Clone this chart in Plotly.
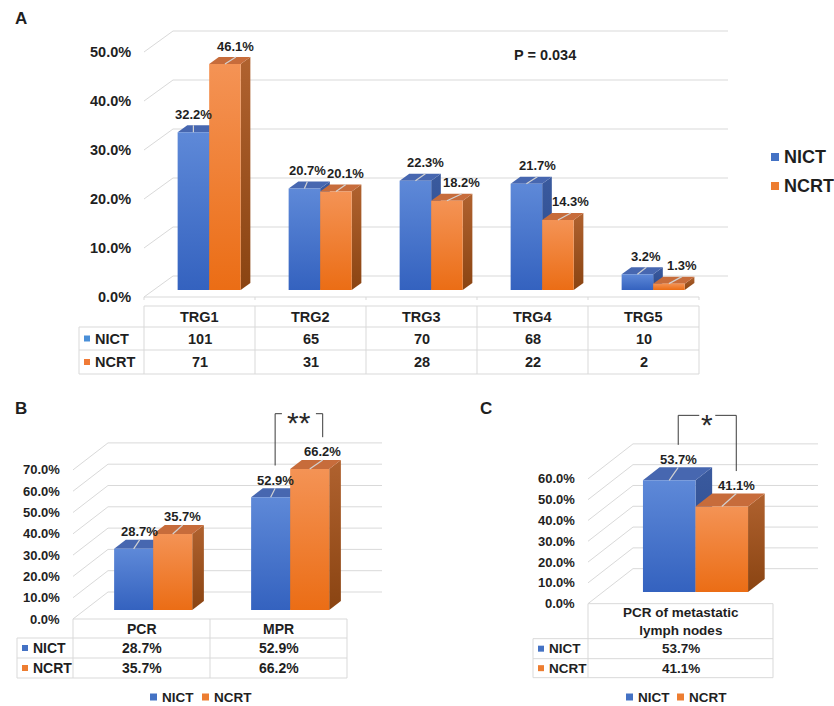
import plotly.graph_objects as go

W, H = 834, 706
FONT = "Liberation Sans, Arial, Helvetica, sans-serif"
INK = "#1F1F1F"
GRID = "#D9D9D9"
LEADER = "#D2D2D2"

# ---------------- data ----------------
series_names = ["NICT", "NCRT"]

trg_categories = ["TRG1", "TRG2", "TRG3", "TRG4", "TRG5"]
trg_nict_pct = [32.2, 20.7, 22.3, 21.7, 3.2]
trg_ncrt_pct = [46.1, 20.1, 18.2, 14.3, 1.3]
trg_nict_count = [101, 65, 70, 68, 10]
trg_ncrt_count = [71, 31, 28, 22, 2]
trg_ticks = [0, 10, 20, 30, 40, 50]
trg_p_text = "P = 0.034"

resp_categories = ["PCR", "MPR"]
resp_nict_pct = [28.7, 52.9]
resp_ncrt_pct = [35.7, 66.2]
resp_ticks = [0, 10, 20, 30, 40, 50, 60, 70]
resp_sig = "**"

ln_categories = ["PCR of metastatic<br>lymph nodes"]
ln_nict_pct = [53.7]
ln_ncrt_pct = [41.1]
ln_ticks = [0, 10, 20, 30, 40, 50, 60]
ln_sig = "*"

# ---------------- styles ----------------
FACE = {
    "NICT": dict(front=("#3462BF", "#5E89D8"), top="#4767B0", side=("#2B4A8D", "#3A5A9E")),
    "NCRT": dict(front=("#EB6D15", "#F49355"), top="#C76C3B", side=("#8A4412", "#B0622F")),
}
KEY = {"NICT": "#4472C4", "NCRT": "#ED7D31"}
KEY_TABLE_A = {"NICT": "#4A8FD8", "NCRT": "#F07A36"}

panels = [
    dict(xa="x", ya="y", box=(0, 0, 834, 395), cx=199.5, ux=111.0, y0=290.0, uy=4.9,
         depth=(29.0, 21.0), bar_t=1 / 3, bar_w=0.284,
         cats=trg_categories, vals=[trg_nict_pct, trg_ncrt_pct], ticks=trg_ticks,
         rows=[[str(v) for v in trg_nict_count], [str(v) for v in trg_ncrt_count]],
         tick_font=14.5, value_font=13, table_font=14.5, header_font=14.5,
         label_gap=11, nudge=([0, 3, 10, 11, 9], [11, 10, 15, 13, 13]),
         table_gap=9, row_h=(21, 23, 24), key_w=65, key_colors=KEY_TABLE_A, floor_ticks=True),
    dict(xa="x2", ya="y2", box=(0, 395, 417, 706), cx=141.5, ux=137.0, y0=610.0, uy=2.13,
         depth=(35.0, 27.0), bar_t=1 / 3, bar_w=0.285,
         cats=resp_categories, vals=[resp_nict_pct, resp_ncrt_pct], ticks=resp_ticks,
         rows=[[f"{v:.1f}%" for v in resp_nict_pct], [f"{v:.1f}%" for v in resp_ncrt_pct]],
         tick_font=13, value_font=13, table_font=14, header_font=14,
         label_gap=8.3, nudge=([6, 4.5], [10, 13]),
         table_gap=0, row_h=(19, 20, 20), key_w=56, key_colors=KEY, floor_ticks=False,
         sig=resp_sig, sig_cat=1, sig_above=38, sig_gap=17),
    dict(xa="x3", ya="y3", box=(417, 395, 834, 706), cx=680.5, ux=185.0, y0=592.0, uy=2.08,
         depth=(45.0, 35.0), bar_t=0.37, bar_w=0.284,
         cats=ln_categories, vals=[ln_nict_pct, ln_ncrt_pct], ticks=ln_ticks,
         rows=[[f"{v:.1f}%" for v in ln_nict_pct], [f"{v:.1f}%" for v in ln_ncrt_pct]],
         tick_font=13, value_font=13, table_font=13.5, header_font=13.5,
         label_gap=8, nudge=([9], [14.5]),
         table_gap=0, row_h=(35, 20, 19), key_w=55, key_colors=KEY, floor_ticks=False,
         sig=ln_sig, sig_cat=0, sig_above=44, sig_gap=8),
]

fig = go.Figure()
shapes, annotations = [], []


def font(size, bold=True, color=INK):
    return dict(family=FONT, size=size, color=color, weight="bold" if bold else "normal")


def paper_x(px):
    return px / W


def paper_y(py):
    return 1 - py / H


def poly(p, xs, ys, color=None, grad=None):
    tr = go.Scatter(x=xs + [xs[0]], y=ys + [ys[0]], mode="lines", fill="toself",
                    line=dict(width=0), hoverinfo="skip", showlegend=False,
                    xaxis=p["xa"], yaxis=p["ya"])
    if grad:
        tr.fillgradient = dict(type="vertical", colorscale=[[0, grad[0]], [1, grad[1]]])
        tr.fillcolor = grad[1]
    else:
        tr.fillcolor = color
    fig.add_trace(tr)


def seg(p, x0, y0, x1, y1, color=GRID, width=1):
    shapes.append(dict(type="line", xref=p["xa"], yref=p["ya"], x0=x0, y0=y0, x1=x1, y1=y1,
                       line=dict(color=color, width=width), layer="below"))


def label_pos(p, s, i):
    """Centre of the value label for series s, category i (data units)."""
    Dx, Dy = p["depth"]
    v = p["vals"][s][i]
    xc = i + Dx / 3 / p["ux"] + (s - 0.5) * p["bar_w"]
    bdy = p["bar_t"] * Dy / p["uy"]
    lx = xc + p["nudge"][s][i] / p["ux"]
    ly = v + bdy + p["label_gap"] / p["uy"]
    return xc, lx, ly


for p in panels:
    ux, uy = p["ux"], p["uy"]
    Dx, Dy = p["depth"]
    n = len(p["cats"])
    bx0, by0, bx1, by1 = p["box"]
    ddx, ddy = Dx / ux, Dy / uy          # full floor depth in data units
    front_off = -ddy / 3                  # front floor level relative to bar base
    back_off = 2 * ddy / 3                # back wall level relative to bar base

    # back-wall gridlines with their receding floor diagonals
    for v in p["ticks"]:
        seg(p, -0.5, v + front_off, -0.5 + ddx, v + back_off)
        seg(p, -0.5 + ddx, v + back_off, n - 0.5 + ddx, v + back_off)
        annotations.append(dict(xref=p["xa"], yref=p["ya"], x=-0.5 - 11 / ux, y=v + front_off,
                                text=f"{v:.1f}%", showarrow=False, xanchor="right",
                                yanchor="middle", font=font(p["tick_font"])))

    # 3-D bars
    bdx, bdy = p["bar_t"] * ddx, p["bar_t"] * ddy
    w = p["bar_w"]
    for i in range(n):
        for s, name in enumerate(series_names):
            v = p["vals"][s][i]
            xl = i + ddx / 3 - w + s * w
            xr = xl + w
            f = FACE[name]
            poly(p, [xr, xr + bdx, xr + bdx, xr], [0, bdy, v + bdy, v], grad=f["side"])
            poly(p, [xl, xr, xr + bdx, xl + bdx], [v, v, v + bdy, v + bdy], color=f["top"])
            poly(p, [xl, xr, xr, xl], [0, 0, v, v], grad=f["front"])
        for s in range(2):
            v = p["vals"][s][i]
            xc, lx, ly = label_pos(p, s, i)
            fig.add_trace(go.Scatter(x=[xc, lx], y=[v, v + bdy], mode="lines",
                                     line=dict(color=LEADER, width=1.2), hoverinfo="skip",
                                     showlegend=False, xaxis=p["xa"], yaxis=p["ya"]))
            annotations.append(dict(xref=p["xa"], yref=p["ya"], x=lx, y=ly,
                                    text=f"{v:.1f}%", showarrow=False, xanchor="center",
                                    yanchor="middle", font=font(p["value_font"])))

    # floor edge (with category ticks) and data table
    floor_px = p["y0"] + Dy / 3
    to_y = lambda py: (p["y0"] - py) / uy
    if p["floor_ticks"]:
        seg(p, -0.5, to_y(floor_px), n - 0.5, to_y(floor_px))
        for j in range(n + 1):
            seg(p, -0.5 + j, to_y(floor_px), -0.5 + j, to_y(floor_px + 3))
    top_px = floor_px + p["table_gap"]
    r1 = top_px + p["row_h"][0]
    r2 = r1 + p["row_h"][1]
    r3 = r2 + p["row_h"][2]
    kl = -0.5 - p["key_w"] / ux
    seg(p, -0.5, to_y(top_px), n - 0.5, to_y(top_px))
    for r in (r1, r2, r3):
        seg(p, kl, to_y(r), n - 0.5, to_y(r))
    seg(p, kl, to_y(r1), kl, to_y(r3))
    for j in range(n + 1):
        seg(p, -0.5 + j, to_y(top_px), -0.5 + j, to_y(r3))
    for i, c in enumerate(p["cats"]):
        annotations.append(dict(xref=p["xa"], yref=p["ya"], x=i, y=to_y((top_px + r1) / 2),
                                text=c, showarrow=False, font=font(p["header_font"]),
                                yanchor="middle"))
    for s, (ra, rb) in enumerate(((r1, r2), (r2, r3))):
        yc = to_y((ra + rb) / 2)
        for i in range(n):
            annotations.append(dict(xref=p["xa"], yref=p["ya"], x=i, y=yc, text=p["rows"][s][i],
                                    showarrow=False, font=font(p["table_font"]), yanchor="middle"))
        # legend key inside the table
        kx = kl + 5 / ux
        shapes.append(dict(type="rect", xref=p["xa"], yref=p["ya"], x0=kx, x1=kx + 6 / ux,
                           y0=yc - 3 / uy, y1=yc + 3 / uy,
                           fillcolor=p["key_colors"][series_names[s]], line=dict(width=0)))
        annotations.append(dict(xref=p["xa"], yref=p["ya"], x=kx + 9 / ux, y=yc,
                                text=series_names[s], showarrow=False, xanchor="left",
                                yanchor="middle", font=font(p["table_font"])))

    # significance bracket
    if "sig" in p:
        i = p["sig_cat"]
        _, xl_, yl_ = label_pos(p, 0, i)
        _, xr_, yr_ = label_pos(p, 1, i)
        yt = max(yl_, yr_) + p["sig_above"] / uy
        xm = (xl_ + xr_) / 2
        g = p["sig_gap"] / ux
        path = (f"M {xl_},{yl_ + 14.5 / uy} L {xl_},{yt} L {xm - g},{yt} "
                f"M {xm + g},{yt} L {xr_},{yt} L {xr_},{yr_ + 14.5 / uy}")
        shapes.append(dict(type="path", xref=p["xa"], yref=p["ya"], path=path,
                           line=dict(color="#3A3A3A", width=1)))
        annotations.append(dict(xref=p["xa"], yref=p["ya"], x=xm, y=yt - 9 / uy, text=p["sig"],
                                showarrow=False, yanchor="middle",
                                font=font(30, bold=False, color="#2A2A2A")))

    # axis placement so that one data unit has the intended size
    ax = dict(visible=False, fixedrange=True,
              domain=[bx0 / W, bx1 / W], range=[(bx0 - p["cx"]) / ux, (bx1 - p["cx"]) / ux],
              anchor=p["ya"])
    ay = dict(visible=False, fixedrange=True,
              domain=[1 - by1 / H, 1 - by0 / H], range=[(p["y0"] - by1) / uy, (p["y0"] - by0) / uy],
              anchor=p["xa"])
    fig.layout["xaxis" + p["xa"][1:]] = ax
    fig.layout["yaxis" + p["ya"][1:]] = ay

# panel letters and p-value
for letter, px, py in (("A", 13, 18), ("B", 13, 408), ("C", 478, 408)):
    annotations.append(dict(xref="paper", yref="paper", x=paper_x(px), y=paper_y(py), text=letter,
                            showarrow=False, xanchor="left", yanchor="middle", font=font(17)))
annotations.append(dict(xref="paper", yref="paper", x=paper_x(544.5), y=paper_y(55),
                        text=trg_p_text, showarrow=False, yanchor="middle", font=font(14.5)))

# legends
def legend_item(px, py, name, size, sq):
    shapes.append(dict(type="rect", xref="paper", yref="paper",
                       x0=paper_x(px), x1=paper_x(px + sq),
                       y0=paper_y(py + sq / 2), y1=paper_y(py - sq / 2),
                       fillcolor=KEY[name], line=dict(width=0)))
    annotations.append(dict(xref="paper", yref="paper", x=paper_x(px + sq + 3), y=paper_y(py),
                            text=name, showarrow=False, xanchor="left", yanchor="middle",
                            font=font(size)))


legend_item(771, 157, "NICT", 18, 8)
legend_item(771, 186, "NCRT", 18, 8)
legend_item(150, 697, "NICT", 13.5, 7)
legend_item(202, 697, "NCRT", 13.5, 7)
legend_item(626, 697, "NICT", 13.5, 7)
legend_item(677, 697, "NCRT", 13.5, 7)

fig.update_layout(width=W, height=H, margin=dict(l=0, r=0, t=0, b=0),
                  paper_bgcolor="white", plot_bgcolor="white", showlegend=False,
                  shapes=shapes, annotations=annotations)

fig.write_html("out.html")
